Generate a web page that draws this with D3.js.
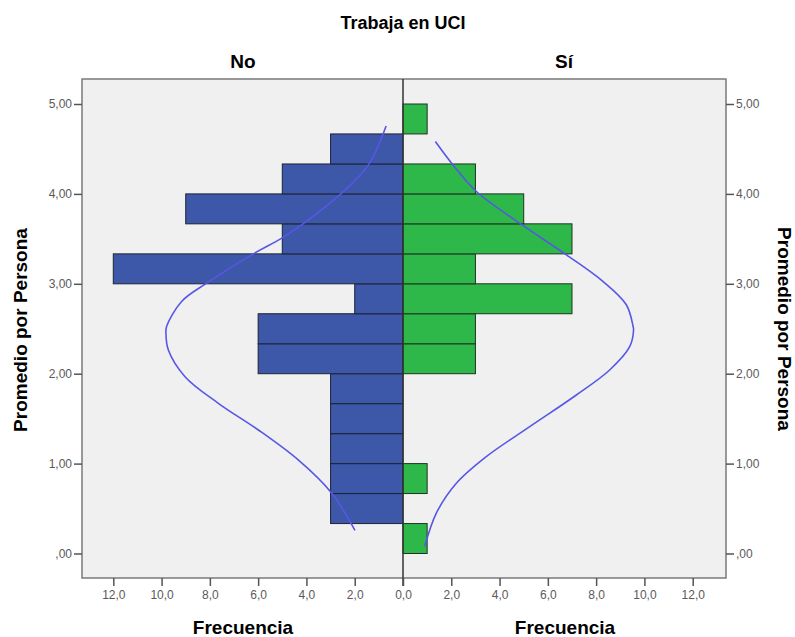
<!DOCTYPE html>
<html>
<head>
<meta charset="utf-8">
<script src="https://cdn.jsdelivr.net/npm/d3@7"></script>
<style>
  body { margin: 0; background: #fff; }
  svg text { font-family: "Liberation Sans", Arial, sans-serif; }
  .tick text { fill: #5a5a5a; font-size: 12px; }
  .domain { stroke: #6e6e6e; }
  .tick line { stroke: #555; }
</style>
</head>
<body>
<div id="chart"></div>
<script>
// bordes de las clases (Promedio por Persona)
var binEdges = [0, 0.333, 0.667, 1, 1.333, 1.667, 2, 2.333, 2.667, 3, 3.333, 3.667, 4, 4.333, 4.667, 5];
// frecuencias por clase
var countsNo = [0, 3, 3, 3, 3, 3, 6, 6, 2, 12, 5, 9, 5, 3, 0];
var countsSi = [1, 0, 1, 0, 0, 0, 3, 3, 7, 3, 7, 5, 3, 0, 1];
// curvas normales: [promedio, frecuencia]
var curveNo = [[4.756, 0.70], [4.32, 1.44], [4.008, 2.54], [3.656, 4.20], [3.508, 5.02], [3.322, 6.27],
  [3.008, 8.13], [2.804, 9.17], [2.527, 9.79], [2.449, 9.82], [2.263, 9.72], [1.967, 9.03], [1.671, 7.65],
  [1.374, 5.99], [1.041, 4.34], [0.671, 2.95], [0.256, 1.99]];
var curveSi = [[4.582, 1.34], [4.322, 2.07], [4.027, 3.04], [3.674, 4.83], [3.322, 6.77], [3.027, 8.28],
  [2.767, 9.25], [2.527, 9.53], [2.486, 9.55], [2.30, 9.39], [2.041, 8.56], [1.763, 7.18], [1.411, 5.25],
  [1.078, 3.45], [0.782, 2.21], [0.449, 1.38], [0.078, 0.90]];
var yTicks = [0, 1, 2, 3, 4, 5];
var xTicks = [0, 2, 4, 6, 8, 10, 12];

var width = 795, height = 637;
var frame = { left: 82, right: 726, top: 79, bottom: 578 };
var mid = 403;

var svg = d3.select("#chart").append("svg")
  .attr("width", width)
  .attr("height", height);

var y = d3.scaleLinear().domain([0, 5]).range([553.5, 104]);
var xL = d3.scaleLinear().domain([0, 12]).range([mid, 113.3]);
var xR = d3.scaleLinear().domain([0, 12]).range([mid, 692.7]);

// fondo del area de grafico
svg.append("rect")
  .attr("x", frame.left).attr("y", frame.top)
  .attr("width", frame.right - frame.left)
  .attr("height", frame.bottom - frame.top)
  .attr("fill", "#f0f0f0")
  .attr("stroke", "#7a7a7a")
  .attr("stroke-width", 1.5);

var fmtY = function (d) { return d3.format(".2f")(d).replace(".", ",").replace(/^0,/, ","); };
var fmtX = function (d) { return d3.format(".1f")(d).replace(".", ","); };

// barras No
var bins = d3.range(countsNo.length);
svg.append("g").selectAll("rect")
  .data(bins.filter(function (i) { return countsNo[i] > 0; }))
  .enter().append("rect")
  .attr("x", function (i) { return xL(countsNo[i]); })
  .attr("y", function (i) { return y(binEdges[i + 1]); })
  .attr("width", function (i) { return mid - xL(countsNo[i]); })
  .attr("height", function (i) { return y(binEdges[i]) - y(binEdges[i + 1]); })
  .attr("fill", "#3d57a9")
  .attr("stroke", "#1e2433")
  .attr("stroke-width", 1);

// barras Si
svg.append("g").selectAll("rect")
  .data(bins.filter(function (i) { return countsSi[i] > 0; }))
  .enter().append("rect")
  .attr("x", mid)
  .attr("y", function (i) { return y(binEdges[i + 1]); })
  .attr("width", function (i) { return xR(countsSi[i]) - mid; })
  .attr("height", function (i) { return y(binEdges[i]) - y(binEdges[i + 1]); })
  .attr("fill", "#2eb84a")
  .attr("stroke", "#1f3322")
  .attr("stroke-width", 1);

// linea central
svg.append("line")
  .attr("x1", mid).attr("x2", mid)
  .attr("y1", frame.top).attr("y2", frame.bottom + 8)
  .attr("stroke", "#333").attr("stroke-width", 1.5);

// curvas normales
svg.append("path")
  .datum(curveNo)
  .attr("fill", "none")
  .attr("stroke", "#5757e6")
  .attr("stroke-width", 1.6)
  .attr("d", d3.line()
    .x(function (d) { return xL(d[1]); })
    .y(function (d) { return y(d[0]); })
    .curve(d3.curveCatmullRom));

svg.append("path")
  .datum(curveSi)
  .attr("fill", "none")
  .attr("stroke", "#5757e6")
  .attr("stroke-width", 1.6)
  .attr("d", d3.line()
    .x(function (d) { return xR(d[1]); })
    .y(function (d) { return y(d[0]); })
    .curve(d3.curveCatmullRom));

// ejes Y (izquierda y derecha)
var gyL = svg.append("g")
  .attr("transform", "translate(" + frame.left + ",0)")
  .call(d3.axisLeft(y).tickValues(yTicks).tickFormat(fmtY).tickSize(8).tickPadding(2));
var gyR = svg.append("g")
  .attr("transform", "translate(" + frame.right + ",0)")
  .call(d3.axisRight(y).tickValues(yTicks).tickFormat(fmtY).tickSize(8).tickPadding(2));
[gyL, gyR].forEach(function (g) { g.select(".domain").remove(); });

// ejes X
var gxL = svg.append("g")
  .attr("transform", "translate(0," + frame.bottom + ")")
  .call(d3.axisBottom(xL).tickValues(xTicks).tickFormat(fmtX).tickSize(8).tickPadding(4));
var gxR = svg.append("g")
  .attr("transform", "translate(0," + frame.bottom + ")")
  .call(d3.axisBottom(xR).tickValues(xTicks.slice(1)).tickFormat(fmtX).tickSize(8).tickPadding(4));
[gxL, gxR].forEach(function (g) { g.select(".domain").remove(); });
svg.selectAll(".tick line").attr("stroke-width", 1.5);

// titulos
svg.append("text")
  .attr("x", mid).attr("y", 29)
  .attr("text-anchor", "middle")
  .style("font-size", "18px").style("font-weight", "bold")
  .text("Trabaja en UCI");

svg.append("text")
  .attr("x", 243).attr("y", 68)
  .attr("text-anchor", "middle")
  .style("font-size", "19px").style("font-weight", "bold")
  .text("No");

svg.append("text")
  .attr("x", 564).attr("y", 68)
  .attr("text-anchor", "middle")
  .style("font-size", "19px").style("font-weight", "bold")
  .text("Sí");

[243, 565].forEach(function (cx) {
  svg.append("text")
    .attr("x", cx).attr("y", 634)
    .attr("text-anchor", "middle")
    .style("font-size", "19px").style("font-weight", "bold")
    .text("Frecuencia");
});

svg.append("text")
  .attr("transform", "translate(27,330) rotate(-90)")
  .attr("text-anchor", "middle")
  .style("font-size", "19px").style("font-weight", "bold")
  .text("Promedio por Persona");

svg.append("text")
  .attr("transform", "translate(778,329) rotate(90)")
  .attr("text-anchor", "middle")
  .style("font-size", "19px").style("font-weight", "bold")
  .text("Promedio por Persona");
</script>
</body>
</html>
